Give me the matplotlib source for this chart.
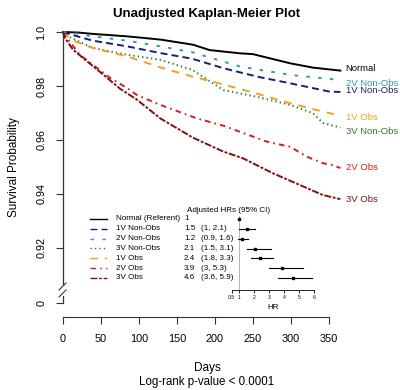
import numpy as np
import matplotlib
matplotlib.use("Agg")
import matplotlib.pyplot as plt
from matplotlib.lines import Line2D

plt.rcParams['font.family'] = ['Liberation Sans', 'DejaVu Sans']
plt.rcParams['lines.scale_dashes'] = False

# survival curves (days, probability)
groups = ["Normal", "1V Non-Obs", "2V Non-Obs", "3V Non-Obs", "1V Obs", "2V Obs", "3V Obs"]

days_normal = [0, 20, 39, 84, 128, 171, 193, 233, 250, 299, 329, 365]
surv_normal = [1.0, 0.9998, 0.9993, 0.9984, 0.9972, 0.9953, 0.9933, 0.9921, 0.9918, 0.9884, 0.9868, 0.9857]

days_1vn = [0, 5, 39, 84, 128, 170, 211, 255, 299, 351, 365]
surv_1vn = [1.0, 0.9995, 0.9968, 0.9947, 0.9922, 0.9901, 0.9866, 0.9835, 0.9810, 0.9779, 0.9778]

days_2vn = [0, 10, 39, 84, 128, 170, 233, 299, 365]
surv_2vn = [1.0, 0.9998, 0.9984, 0.9968, 0.9947, 0.9925, 0.9872, 0.9841, 0.9822]

days_3vn = [0, 2, 39, 84, 128, 170, 211, 255, 299, 329, 342, 365]
surv_3vn = [1.0, 0.999, 0.9941, 0.9916, 0.9897, 0.9860, 0.9785, 0.9760, 0.9730, 0.9699, 0.9663, 0.9646]

days_1vo = [0, 2, 18, 39, 84, 128, 170, 197, 246, 299, 334, 365]
surv_1vo = [1.0, 0.999, 0.9963, 0.9941, 0.9910, 0.9869, 0.9835, 0.9816, 0.9779, 0.9736, 0.9711, 0.9690]

days_2vo = [0, 2, 22, 39, 62, 84, 97, 128, 158, 176, 211, 242, 268, 299, 321, 342, 355, 365]
surv_2vo = [1.0, 0.999, 0.9916, 0.9879, 0.9830, 0.9793, 0.9767, 0.9730, 0.9699, 0.9680, 0.9653,
            0.9621, 0.9594, 0.9575, 0.9538, 0.9514, 0.9507, 0.9496]

days_3vo = [0, 2, 13, 31, 53, 75, 97, 128, 154, 170, 211, 237, 276, 312, 342, 365]
surv_3vo = [1.0, 0.998, 0.9935, 0.9893, 0.9842, 0.9790, 0.9750, 0.9680, 0.9637, 0.9610, 0.9557,
            0.9532, 0.9477, 0.9433, 0.9396, 0.9381]

curve_days = [days_normal, days_1vn, days_2vn, days_3vn, days_1vo, days_2vo, days_3vo]
curve_surv = [surv_normal, surv_1vn, surv_2vn, surv_3vn, surv_1vo, surv_2vo, surv_3vo]

colors = ["black", "#1c1c78", "#2e9e9e", "#2c7d2c", "#eda21c", "#d81c1c", "#7e1010"]
styles = ["-", (0, (5, 3)), (0, (2.5, 6)), (0, (1, 2.2)), (0, (5.5, 5)),
          (0, (4, 3, 1.2, 3)), (0, (5, 1.2, 2, 1.2))]

# end labels on the right
end_labels = ["Normal", "1V Non-Obs", "2V Non-Obs", "3V Non-Obs", "1V Obs", "2V Obs", "3V Obs"]
end_label_y = [0.9863, 0.97815, 0.9811, 0.96333, 0.96815, 0.94963, 0.93778]

# hazard ratios
legend_names = ["Normal (Referent)", "1V Non-Obs", "2V Non-Obs", "3V Non-Obs", "1V Obs", "2V Obs", "3V Obs"]
hr = [1, 1.5, 1.2, 2.1, 2.4, 3.9, 4.6]
hr_lo = [None, 1, 0.9, 1.5, 1.8, 3, 3.6]
hr_hi = [None, 2.1, 1.6, 3.1, 3.3, 5.3, 5.9]

W, H = 400, 390
fig = plt.figure(figsize=(4, 3.9), dpi=100)


def fx(px):
    return px / W


def fy(py):
    return 1 - py / H


def fline(xs, ys, **kw):
    fig.add_artist(Line2D([fx(x) for x in xs], [fy(y) for y in ys], transform=fig.transFigure, **kw))


ax = fig.add_axes([fx(63), fy(317), (344.2 - 63) / W, (317 - 23.9) / H])
ax.set_xlim(0, 370)
ax.set_ylim(0.894444, 1.003)
ax.patch.set_alpha(0)

for d, s, c, ls in zip(curve_days, curve_surv, colors, styles):
    ax.plot(d, s, color=c, linestyle=ls, lw=1.4, clip_on=False)

for lab, yv, c in zip(end_labels, end_label_y, colors):
    ax.text(372, yv, lab, color=c, fontsize=6.8, ha='left', va='center', clip_on=False)

for sp in ['top', 'right', 'left']:
    ax.spines[sp].set_visible(False)
ax.spines['bottom'].set_bounds(0, 350)
ax.spines['bottom'].set_color('#333333')
ax.set_xticks(np.arange(0, 351, 50))
ax.tick_params(axis='x', length=5, pad=7, labelsize=7.8, color='#333333')
zero_pos = 0.89963
ax.set_yticks([1.0, 0.98, 0.96, 0.94, 0.92, zero_pos])
ax.set_yticklabels(["1.0", "0.98", "0.96", "0.94", "0.92", "0"], rotation=90, va='center')
ax.tick_params(axis='y', length=5, pad=7, labelsize=7.8, color='#333333')

# broken y axis
fline([62.5, 62.5], [32, 284], color='#333333', lw=0.9)
fline([62.5, 62.5], [296, 303], color='#333333', lw=0.9)
fline([59, 66], [290, 283], color='#333333', lw=0.8)
fline([59, 66], [297, 290], color='#333333', lw=0.8)

fig.text(fx(207), fy(14), "Unadjusted Kaplan-Meier Plot", fontsize=9.5, fontweight='bold',
         ha='center', va='center')
fig.text(fx(14), fy(167), "Survival Probability", fontsize=8.5, rotation=90, ha='center', va='center')
fig.text(fx(207), fy(368), "Days", fontsize=8.5, ha='center', va='center')
fig.text(fx(207), fy(382), "Log-rank p-value < 0.0001", fontsize=8.3, ha='center', va='center')

# legend with HR table
fig.text(fx(229), fy(211), "Adjusted HRs (95% CI)", fontsize=5.8, ha='center', va='center')
for i, name in enumerate(legend_names):
    py = 218.8 + 9.85 * i
    fline([90, 107], [py, py], color=colors[i], linestyle=styles[i], lw=1.0)
    fig.text(fx(116), fy(py), name, fontsize=5.8, ha='left', va='center')
    fig.text(fx(184), fy(py), f"{hr[i]:g}", fontsize=5.8, ha='left', va='center')
    if hr_lo[i] is not None:
        fig.text(fx(201), fy(py), f"({hr_lo[i]:g}, {hr_hi[i]:g})", fontsize=5.8, ha='left', va='center')

# forest plot
fax = fig.add_axes([fx(231.5), fy(290), (314 - 231.5) / W, 78 / H])
fax.set_xlim(0.5, 6)
fax.set_ylim(7.2, -0.7)
fax.patch.set_alpha(0)
fax.axvline(1, ymax=0.95, color='#aaaaaa', lw=0.6)
rows = np.arange(len(hr))
for r, h, lo, hi in zip(rows, hr, hr_lo, hr_hi):
    if lo is not None:
        fax.plot([lo, hi], [r, r], color='black', lw=0.8)
fax.plot(hr, rows, 's', color='black', ms=1.8)
for sp in ['top', 'right', 'left']:
    fax.spines[sp].set_visible(False)
fax.spines['bottom'].set_bounds(0.5, 6)
fax.spines['bottom'].set_linewidth(0.6)
fax.set_yticks([])
fax.set_xticks([0.5, 1, 2, 3, 4, 5, 6])
fax.set_xticklabels(["0.5", "1", "2", "3", "4", "5", "6"])
fax.tick_params(axis='x', length=2, width=0.6, pad=1.5, labelsize=3.6)
fax.set_xlabel("HR", fontsize=5.8, labelpad=3)

fig.savefig("out.png", dpi=100)
